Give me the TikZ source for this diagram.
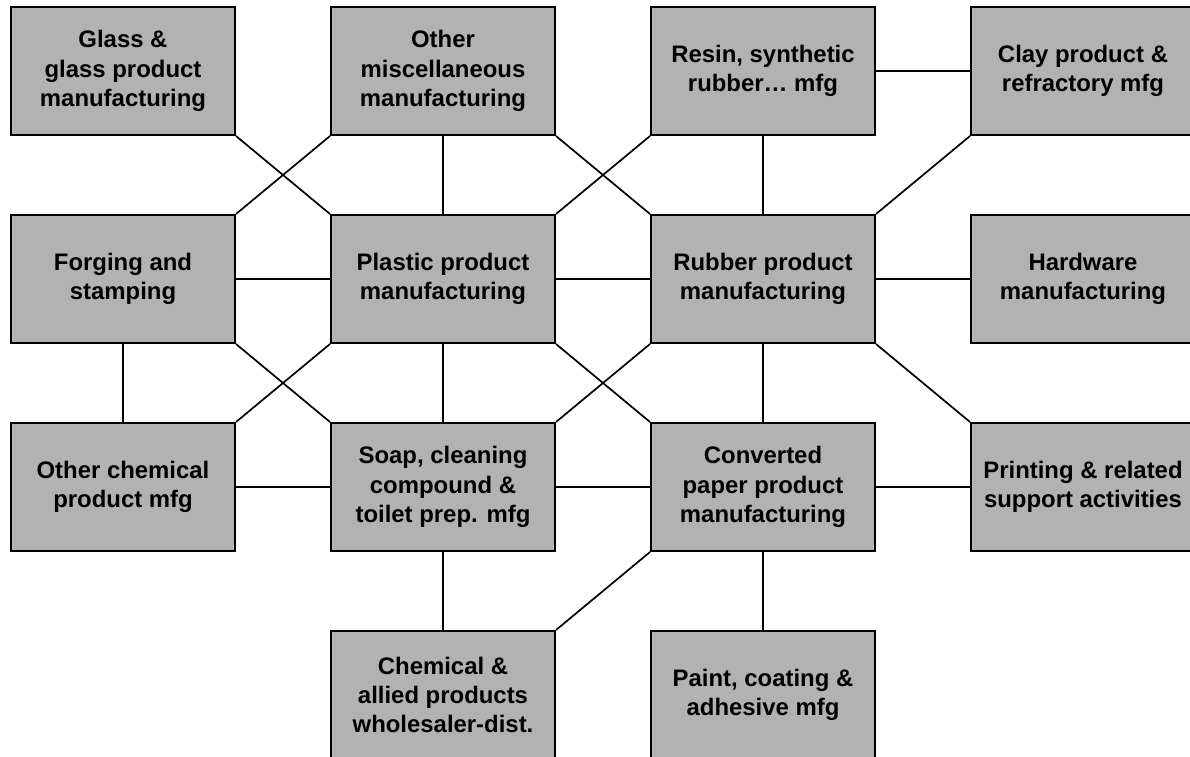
\documentclass[tikz,border=0pt]{standalone}
\usepackage{fontspec}
\setmainfont{Liberation Sans}
\begin{document}
\begin{tikzpicture}[x=1bp,y=-1bp,
  box/.style={rectangle, draw=black, line width=2bp, fill=black!30,
    minimum width=224bp, minimum height=128bp, inner sep=0pt,
    anchor=north west, align=center,
    font=\fontsize{24}{29.5}\selectfont\bfseries},
  link/.style={draw=black, line width=1.7bp}]
\useasboundingbox (0,0) rectangle (1190,757);
\clip (0,0) rectangle (1190,757);

% row 1
\node[box] (glass)   at (10,6)   {Glass \&\\glass product\\manufacturing};
\node[box] (othmisc) at (330,6)  {Other\\miscellaneous\\manufacturing};
\node[box] (resin)   at (650,6)  {Resin, synthetic\\rubber… mfg};
\node[box] (clay)    at (970,6)  {Clay product \&\\refractory mfg};
% row 2
\node[box] (forging) at (10,214)  {Forging and\\stamping};
\node[box] (plastic) at (330,214) {Plastic product\\manufacturing};
\node[box] (rubber)  at (650,214) {Rubber product\\manufacturing};
\node[box] (hardw)   at (970,214) {Hardware\\manufacturing};
% row 3
\node[box] (othchem) at (10,422)  {Other chemical\\product mfg};
\node[box] (soap)    at (330,422) {Soap, cleaning\\compound \&\\toilet prep. mfg};
\node[box] (paper)   at (650,422) {Converted\\paper product\\manufacturing};
\node[box] (print)   at (970,422) {Printing \& related\\support activities};
% row 4
\node[box] (chemwh)  at (330,630) {Chemical \&\\allied products\\wholesaler-dist.};
\node[box] (paint)   at (650,630) {Paint, coating \&\\adhesive mfg};

% links between row 1 and row 2
\draw[link] (glass.south east) -- (plastic.north west);
\draw[link] (othmisc.south west) -- (forging.north east);
\draw[link] (othmisc.south) -- (plastic.north);
\draw[link] (othmisc.south east) -- (rubber.north west);
\draw[link] (resin.south west) -- (plastic.north east);
\draw[link] (resin.south) -- (rubber.north);
\draw[link] (resin.east) -- (clay.west);
\draw[link] (clay.south west) -- (rubber.north east);
% links within row 2
\draw[link] (forging.east) -- (plastic.west);
\draw[link] (plastic.east) -- (rubber.west);
\draw[link] (rubber.east) -- (hardw.west);
% links between row 2 and row 3
\draw[link] (forging.south) -- (othchem.north);
\draw[link] (plastic.south west) -- (othchem.north east);
\draw[link] (forging.south east) -- (soap.north west);
\draw[link] (plastic.south) -- (soap.north);
\draw[link] (plastic.south east) -- (paper.north west);
\draw[link] (rubber.south west) -- (soap.north east);
\draw[link] (rubber.south) -- (paper.north);
\draw[link] (rubber.south east) -- (print.north west);
% links within row 3
\draw[link] (othchem.east) -- (soap.west);
\draw[link] (soap.east) -- (paper.west);
\draw[link] (paper.east) -- (print.west);
% links between row 3 and row 4
\draw[link] (soap.south) -- (chemwh.north);
\draw[link] (paper.south west) -- (chemwh.north east);
\draw[link] (paper.south) -- (paint.north);
\end{tikzpicture}
\end{document}
